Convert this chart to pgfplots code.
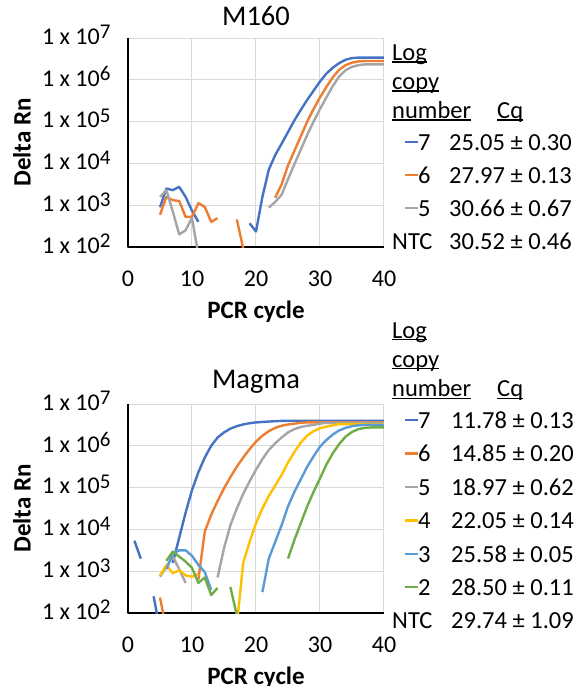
\documentclass[border=0pt]{standalone}
\usepackage{fontspec}
\setmainfont{Carlito}
\usepackage{pgfplots}
\pgfplotsset{compat=1.18}
\definecolor{cA}{HTML}{4472C4}
\definecolor{cB}{HTML}{ED7D31}
\definecolor{cC}{HTML}{A5A5A5}
\definecolor{cD}{HTML}{FFC000}
\definecolor{cE}{HTML}{5B9BD5}
\definecolor{cF}{HTML}{70AD47}
\newcommand{\tlab}[1]{1 x 10\raisebox{5.5pt}{\fontsize{21}{21}\selectfont #1}}
\newcommand{\ulin}[1]{\setbox0\hbox{#1}\rlap{\rule[-2.3pt]{\wd0}{1.3pt}}\box0}
\begin{document}
\begin{tikzpicture}
\path[use as bounding box] (-128pt,-439pt) rectangle (446pt,247pt);
% ---------------- M160 ----------------
\begin{axis}[
  scale only axis, width=256pt, height=209pt,
  ymode=log, xmin=0, xmax=40, ymin=100, ymax=1e7,
  xtick={0,10,20,30,40}, ytick={1e2,1e3,1e4,1e5,1e6,1e7},
  xticklabels={0,10,20,30,40},
  yticklabels={\tlab{2},\tlab{3},\tlab{4},\tlab{5},\tlab{6},\tlab{7}},
  axis x line=bottom, axis y line=left, axis line style={-},
  x axis line style={line width=2.5pt}, y axis line style={line width=1.8pt},
  grid=major, major grid style={line width=1pt, color=black!15},
  major tick length=0pt,
  tick label style={font=\fontsize{24}{26}\selectfont},
  xticklabel style={anchor=base, yshift=-39.7pt},
  yticklabel style={anchor=base east, yshift=-6.3pt, xshift=-14pt},
  xlabel={PCR cycle}, ylabel={Delta Rn},
  label style={font=\fontsize{25}{28}\selectfont\bfseries},
  xlabel style={at={(axis description cs:0.5,-0.34)}, anchor=base},
  ylabel style={at={(axis description cs:-0.414,0.5)}, anchor=center},
  title style={font=\fontsize{28.5}{32}\selectfont, anchor=base, at={(axis description cs:0.5,1.03)}},
  unbounded coords=jump,
  at={(0pt,0pt)}, anchor=south west, title={M160}]
\addplot[cA, line width=2.4pt, line join=round, no markers] coordinates {(5,890) (6,2510) (7,2290) (8,2750) (9,1580) (10,740) (11,400) (12,nan)
 (19,370) (20,235) (21,1580) (22,7080) (23,15800) (24,29500) (25,56200) (26,107000) (27,191000)
 (28,331000) (29,550000) (30,912000) (31,1.41e6) (32,1.95e6) (33,2.51e6) (34,3.02e6) (35,3.31e6)
 (36,3.39e6) (37,3.39e6) (38,3.39e6) (39,3.39e6) (40,3.39e6)};
\addplot[cB, line width=2.4pt, line join=round, no markers] coordinates {(5,590) (6,1580) (7,1320) (8,1260) (9,525) (10,525) (11,1120) (12,910)
 (13,400) (14,490) (15,nan) (17,457) (18,93) (19,nan)
 (23,1510) (24,3160) (25,8910) (26,20000) (27,44700) (28,100000) (29,200000) (30,380000)
 (31,676000) (32,1.15e6) (33,1.74e6) (34,2.24e6) (35,2.57e6) (36,2.75e6) (37,2.82e6) (38,2.82e6)
 (39,2.82e6) (40,2.82e6)};
\addplot[cC, line width=2.4pt, line join=round, no markers] coordinates {(5,1580) (6,2290) (7,708) (8,200) (9,251) (10,501) (11,63) (12,nan)
 (22,871) (23,1200) (24,1780) (25,4170) (26,9550) (27,21400) (28,47900) (29,100000) (30,200000)
 (31,380000) (32,708000) (33,1.2e6) (34,1.7e6) (35,2.04e6) (36,2.24e6) (37,2.34e6) (38,2.34e6)
 (39,2.34e6) (40,2.34e6)};
\end{axis}
% ---------------- Magma ----------------
\begin{axis}[
  scale only axis, width=256pt, height=209pt,
  ymode=log, xmin=0, xmax=40, ymin=100, ymax=1e7,
  xtick={0,10,20,30,40}, ytick={1e2,1e3,1e4,1e5,1e6,1e7},
  xticklabels={0,10,20,30,40},
  yticklabels={\tlab{2},\tlab{3},\tlab{4},\tlab{5},\tlab{6},\tlab{7}},
  axis x line=bottom, axis y line=left, axis line style={-},
  x axis line style={line width=2.5pt}, y axis line style={line width=1.8pt},
  grid=major, major grid style={line width=1pt, color=black!15},
  major tick length=0pt,
  tick label style={font=\fontsize{24}{26}\selectfont},
  xticklabel style={anchor=base, yshift=-39.7pt},
  yticklabel style={anchor=base east, yshift=-6.3pt, xshift=-14pt},
  xlabel={PCR cycle}, ylabel={Delta Rn},
  label style={font=\fontsize{25}{28}\selectfont\bfseries},
  xlabel style={at={(axis description cs:0.5,-0.34)}, anchor=base},
  ylabel style={at={(axis description cs:-0.414,0.5)}, anchor=center},
  title style={font=\fontsize{28.5}{32}\selectfont, anchor=base, at={(axis description cs:0.5,1.045)}},
  unbounded coords=jump,
  at={(0pt,-366pt)}, anchor=south west, title={Magma}]
\addplot[cA, line width=2.4pt, line join=round, no markers] coordinates {(1,5370) (2,2000) (3,nan) (4,251) (5,40) (6,nan)
 (7,1580) (8,6310) (9,25100) (10,87100) (11,234000) (12,525000) (13,1e6) (14,1.58e6) (15,2.09e6)
 (16,2.57e6) (17,2.95e6) (18,3.24e6) (19,3.47e6) (20,3.63e6) (21,3.72e6) (22,3.8e6) (23,3.89e6)
 (24,3.94e6) (25,3.98e6) (30,3.98e6) (35,3.98e6) (40,3.98e6)};
\addplot[cB, line width=2.4pt, line join=round, no markers] coordinates {(5,234) (6,40) (7,nan)
 (11,631) (12,8910) (13,22400) (14,47900) (15,95500) (16,178000) (17,316000) (18,525000)
 (19,832000) (20,1.26e6) (21,1.74e6) (22,2.24e6) (23,2.69e6) (24,3.02e6) (25,3.24e6) (26,3.39e6)
 (27,3.55e6) (28,3.63e6) (34,3.63e6) (40,3.63e6)};
\addplot[cC, line width=2.4pt, line join=round, no markers] coordinates {(5,741) (6,1260) (7,2240) (8,1120) (9,525) (10,nan)
 (14,708) (15,3550) (16,12600) (17,31600) (18,70800) (19,141000) (20,269000) (21,479000)
 (22,794000) (23,1.15e6) (24,1.58e6) (25,2.09e6) (26,2.51e6) (27,2.82e6) (28,3.02e6) (29,3.16e6)
 (30,3.39e6) (31,3.55e6) (35,3.55e6) (40,3.55e6)};
\addplot[cD, line width=2.4pt, line join=round, no markers] coordinates {(5,794) (6,1410) (7,891) (8,1050) (9,794) (10,741) (11,851) (12,nan)
 (17,50) (18,1580) (19,5010) (20,14100) (21,31600) (22,63100) (23,112000) (24,200000) (25,398000)
 (26,708000) (27,1.2e6) (28,1.74e6) (29,2.24e6) (30,2.63e6) (31,2.88e6) (32,3.09e6) (33,3.31e6)
 (36,3.31e6) (40,3.31e6)};
\addplot[cE, line width=2.4pt, line join=round, no markers] coordinates {(6,1120) (7,2630) (8,3160) (9,3160) (10,2340) (11,1410) (12,955) (13,355) (14,nan)
 (21,316) (22,2000) (23,5010) (24,12600) (25,35500) (26,79400) (27,158000) (28,316000) (29,562000)
 (30,955000) (31,1.38e6) (32,1.86e6) (33,2.34e6) (34,2.69e6) (35,2.95e6) (36,3.09e6) (37,3.16e6)
 (40,3.16e6)};
\addplot[cF, line width=2.4pt, line join=round, no markers] coordinates {(6,1780) (7,2950) (8,2240) (9,1700) (10,1200) (11,525) (12,708) (13,269)
 (14,398) (15,nan) (16,417) (17,89) (18,nan)
 (25,2000) (26,5620) (27,14100) (28,35500) (29,79400) (30,166000) (31,355000) (32,661000)
 (33,1.1e6) (34,1.66e6) (35,2.14e6) (36,2.51e6) (37,2.69e6) (38,2.75e6) (39,2.75e6) (40,2.75e6)};
\end{axis}
% ---------------- legends ----------------
\begin{scope}[x=1pt,y=-1pt,shift={(-128pt,247pt)},
  every node/.style={font=\fontsize{24.5}{28}\selectfont, inner sep=0pt, anchor=base west}]
 \node at (392,60.3) {\ulin{Log}};
 \node at (392,89.3) {\ulin{copy}};
 \node at (392,118.3) {\ulin{number}};
 \node at (497,118.3) {\ulin{Cq}};
 \draw[cA, line width=2.7pt] (405,142) -- (418,142);
 \node at (418,150) {7}; \node at (449,150) {25.05 ± 0.30};
 \draw[cB, line width=2.7pt] (405,175) -- (418,175);
 \node at (418,183) {6}; \node at (449,183) {27.97 ± 0.13};
 \draw[cC, line width=2.7pt] (405,208) -- (418,208);
 \node at (418,216) {5}; \node at (449,216) {30.66 ± 0.67};
 \node at (392,249) {NTC}; \node at (449,249) {30.52 ± 0.46};
 % Magma
 \node at (392,338) {\ulin{Log}};
 \node at (392,367) {\ulin{copy}};
 \node at (392,396.5) {\ulin{number}};
 \node at (497,396.5) {\ulin{Cq}};
 \draw[cA, line width=2.7pt] (405,420) -- (418,420);
 \node at (418,428) {7}; \node at (451,428) {11.78 ± 0.13};
 \draw[cB, line width=2.7pt] (405,453.5) -- (418,453.5);
 \node at (418,461.5) {6}; \node at (451,461.5) {14.85 ± 0.20};
 \draw[cC, line width=2.7pt] (405,487) -- (418,487);
 \node at (418,495) {5}; \node at (451,495) {18.97 ± 0.62};
 \draw[cD, line width=2.7pt] (405,520.5) -- (418,520.5);
 \node at (418,528.5) {4}; \node at (451,528.5) {22.05 ± 0.14};
 \draw[cE, line width=2.7pt] (405,554) -- (418,554);
 \node at (418,562) {3}; \node at (451,562) {25.58 ± 0.05};
 \draw[cF, line width=2.7pt] (405,587) -- (418,587);
 \node at (418,595) {2}; \node at (451,595) {28.50 ± 0.11};
 \node at (392,628) {NTC}; \node at (451,628) {29.74 ± 1.09};
\end{scope}
\end{tikzpicture}
\end{document}
